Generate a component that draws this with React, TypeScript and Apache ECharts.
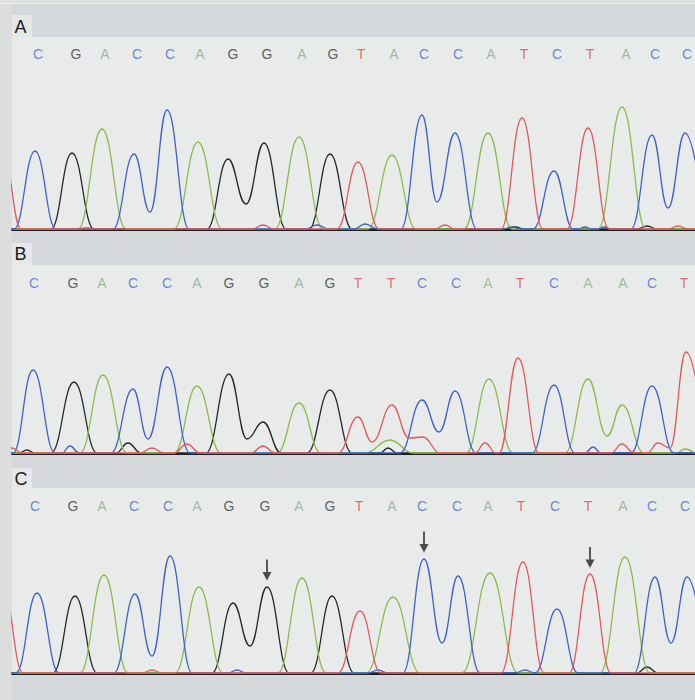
import React, { useEffect, useRef } from 'react';
import * as echarts from 'echarts';

// ---------- Sequence letters (base, x position) ----------
const seqA = ['C','G','A','C','C','A','G','G','A','G','T','A','C','C','A','T','C','T','A','C','C'];
const seqAX = [38,76,105,137,170,200,233,267,302,333,361,394,424,458,491,524,557,590,626,655,687];
const seqB = ['C','G','A','C','C','A','G','G','A','G','T','T','C','C','A','T','C','A','A','C','T'];
const seqBX = [34,73,102,133,167,197,229,264,299,330,358,391,422,456,488,520,554,588,623,652,684];
const seqC = ['C','G','A','C','C','A','G','G','A','G','T','A','C','C','A','T','C','T','A','C','C'];
const seqCX = [35,73,102,134,168,197,229,265,299,330,359,392,422,457,488,521,555,588,623,652,685];

// ---------- Trace extrema (x, signal) ----------
// Panel A
const aC: number[][] = [[0,1],[14,1],[35,79],[56,1],[78,1],[87,2],[96,1],[113,1],[134,76],[150,18],[167,120],[189,1],[305,1],[317,5],[329,1],[354,1],[365,6],[378,1],[401,1],[422,115],[437,28],[455,97],[477,1],[503,1],[512,3],[521,1],[533,1],[554,59],[573,1],[578,1],[585,3],[592,1],[598,1],[604,3],[612,1],[631,1],[652,95],[668,22],[685,97],[706,1]];
const aG: number[][] = [[0,1],[51,1],[72,77],[94,1],[207,1],[228,71],[246,26],[264,87],[286,1],[309,1],[330,76],[352,1],[505,1],[515,3],[525,1],[637,1],[647,4],[657,1],[700,1]];
const aA: number[][] = [[0,1],[78,1],[102,101],[126,1],[174,1],[198,88],[222,1],[275,1],[299,93],[323,1],[368,1],[392,75],[416,1],[464,1],[488,97],[512,1],[598,1],[622,123],[646,1],[700,1]];
const aT: number[][] = [[-20,1],[4,70],[21,1],[252,1],[263,5],[274,1],[337,1],[358,68],[379,1],[435,1],[445,5],[455,1],[501,1],[522,112],[543,1],[567,1],[588,102],[609,1],[668,1],[678,4],[688,1],[700,1]];
// Panel B
const bC: number[][] = [[0,1],[13,1],[33,84],[55,1],[62,1],[70,8],[79,1],[111,1],[133,65],[148,15],[167,87],[190,1],[400,1],[422,54],[439,22],[455,63],[476,1],[532,1],[554,69],[575,1],[585,1],[593,7],[601,1],[631,1],[652,68],[674,1],[700,1]];
const bG: number[][] = [[0,1],[19,1],[27,4],[35,1],[51,1],[74,72],[97,1],[116,1],[128,11],[141,1],[206,1],[229,80],[247,15],[263,32],[281,1],[307,1],[330,64],[352,1],[380,1],[388,6],[397,1],[700,1]];
const bA: number[][] = [[0,1],[80,1],[103,79],[127,1],[174,1],[197,68],[221,1],[277,1],[299,51],[321,1],[365,1],[390,14],[413,1],[466,1],[489,75],[513,1],[565,1],[588,75],[607,18],[622,49],[644,1],[676,1],[685,5],[694,1]];
const bT: number[][] = [[0,1],[12,6],[22,1],[140,1],[152,6],[164,1],[174,1],[187,10],[200,1],[251,1],[263,8],[275,1],[338,1],[358,37],[372,12],[392,49],[409,16],[423,17],[440,1],[475,1],[485,11],[496,1],[499,1],[518,96],[539,1],[611,1],[622,10],[634,1],[647,1],[658,11],[670,6],[686,102],[707,1]];
// Panel C
const cC: number[][] = [[0,1],[16,1],[37,81],[59,1],[114,1],[135,80],[152,18],[170,118],[192,1],[228,1],[237,4],[246,1],[368,1],[378,4],[388,1],[403,1],[424,115],[442,31],[458,98],[480,1],[515,1],[525,4],[535,1],[557,65],[578,1],[634,1],[655,97],[671,31],[687,97],[708,1]];
const cG: number[][] = [[0,1],[53,1],[75,78],[97,1],[212,1],[233,71],[250,28],[267,87],[289,1],[311,1],[332,78],[354,1],[637,1],[647,7],[658,1],[700,1]];
const cA: number[][] = [[0,1],[80,1],[104,99],[128,1],[175,1],[199,87],[223,1],[278,1],[302,96],[326,1],[366,1],[393,77],[420,1],[462,1],[490,101],[518,1],[600,1],[625,117],[650,1],[700,1]];
const cT: number[][] = [[-20,1],[3,85],[23,1],[142,1],[152,4],[162,1],[338,1],[360,63],[381,1],[501,1],[523,112],[544,1],[569,1],[590,100],[611,1],[700,1]];
// Arrows marking changed bases in panel C (x, level)
const arrowsC: number[][] = [[267,104],[424,132],[590,116.5]];

const TRACE_COLORS: Record<string, string> = { A: '#8aba4c', C: '#3f62c6', G: '#262626', T: '#e05a5c' };
const LETTER_COLORS: Record<string, string> = { A: '#8cad8a', C: '#4a6cc9', G: '#383838', T: '#d7524f' };

const panels = [
  { label: 'A', top: 37, bottom: 230, boxTop: 15, labelY: 26.5, seq: seqA, seqX: seqAX, letterY: 176, traces: { G: aG, A: aA, C: aC, T: aT }, arrows: [] as number[][] },
  { label: 'B', top: 265, bottom: 454, boxTop: 243, labelY: 254, seq: seqB, seqX: seqBX, letterY: 171, traces: { G: bG, A: bA, C: bC, T: bT }, arrows: [] as number[][] },
  { label: 'C', top: 488, bottom: 674, boxTop: 468, labelY: 479, seq: seqC, seqX: seqCX, letterY: 168, traces: { G: cG, A: cA, C: cC, T: cT }, arrows: arrowsC },
];

export default function App() {
  const ref = useRef<HTMLDivElement>(null);
  useEffect(() => {
    if (!ref.current) return;
    const chart = echarts.init(ref.current, undefined, { renderer: 'svg' });
    const series: any[] = [];
    panels.forEach((p, i) => {
      (['G', 'A', 'C', 'T'] as const).forEach((b) => {
        series.push({
          type: 'line',
          xAxisIndex: i,
          yAxisIndex: i,
          data: (p.traces as any)[b],
          symbol: 'none',
          smooth: 0.45,
          smoothMonotone: 'x',
          lineStyle: { color: TRACE_COLORS[b], width: 1.3 },
          silent: true,
          z: 3,
        });
      });
      series.push({
        type: 'scatter',
        xAxisIndex: i,
        yAxisIndex: i,
        symbolSize: 0,
        silent: true,
        z: 5,
        data: p.seq.map((b, k) => ({
          name: b,
          value: [p.seqX[k], p.letterY],
          label: { color: LETTER_COLORS[b] },
        })),
        label: {
          show: true,
          position: 'inside',
          formatter: '{b}',
          fontSize: 14,
          fontFamily: '"Liberation Sans", Arial, sans-serif',
        },
      });
      if (p.arrows.length) {
        series.push({
          type: 'scatter',
          xAxisIndex: i,
          yAxisIndex: i,
          symbol: 'path://M4,0L6,0L6,13L10,13L5,22L0,13L4,13Z',
          symbolSize: [9, 21],
          itemStyle: { color: '#222222' },
          silent: true,
          z: 6,
          data: p.arrows,
        });
      }
    });

    const graphic: any[] = [
      { type: 'rect', shape: { x: 0, y: 0, width: 12, height: 700 }, style: { fill: '#dcdedd' }, silent: true },
      { type: 'rect', shape: { x: 0, y: 0, width: 695, height: 3 }, style: { fill: '#dfe1e0' }, silent: true },
      { type: 'line', shape: { x1: 0, y1: 3.5, x2: 695, y2: 3.5 }, style: { stroke: '#eef0ef', lineWidth: 1 }, silent: true },
    ];
    panels.forEach((p) => {
      graphic.push({
        type: 'rect',
        shape: { x: 12, y: p.boxTop, width: 20, height: p.top - p.boxTop },
        style: { fill: '#e5e8e7' },
        silent: true,
      });
      graphic.push({
        type: 'text',
        x: 14.5,
        y: p.labelY,
        style: {
          text: p.label,
          fill: '#1c1c1c',
          font: '18px "Liberation Sans", Arial, sans-serif',
          verticalAlign: 'middle',
          align: 'left',
        },
        silent: true,
      });
    });

    chart.setOption({
      animation: false,
      backgroundColor: '#d5d8da',
      grid: panels.map((p) => ({
        left: 12,
        right: 0,
        top: p.top,
        height: p.bottom - p.top,
        show: true,
        backgroundColor: '#e8ebe9',
        borderWidth: 0,
      })),
      xAxis: panels.map((p, i) => ({
        type: 'value',
        gridIndex: i,
        min: 12,
        max: 695,
        axisLine: { show: true, onZero: false, lineStyle: { color: '#1e1e1e', width: 1.8 } },
        axisTick: { show: false },
        axisLabel: { show: false },
        splitLine: { show: false },
      })),
      yAxis: panels.map((p, i) => ({
        type: 'value',
        gridIndex: i,
        min: 0,
        max: p.bottom - p.top,
        show: false,
      })),
      series,
      graphic,
    });
    return () => chart.dispose();
  }, []);
  return <div ref={ref} style={{ position: 'absolute', left: 0, top: 0, width: 695, height: 700 }} />;
}
